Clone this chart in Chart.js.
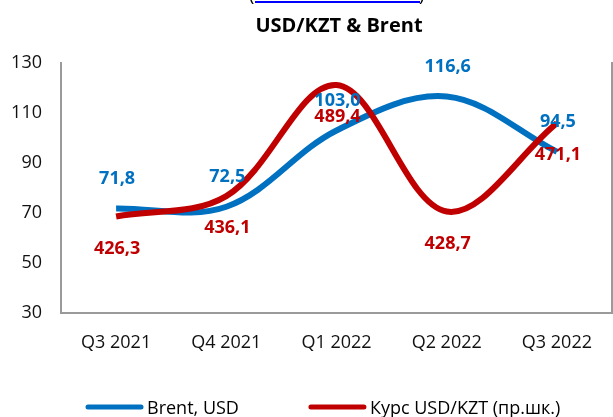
<!DOCTYPE html>
<html>
<head>
<meta charset="utf-8">
<script src="https://cdn.jsdelivr.net/npm/chart.js@4.4.1/dist/chart.umd.min.js"></script>
<style>
    html, body { margin: 0; padding: 0; background: #fff; }
    #wrap { position: relative; width: 613px; height: 417px; }
</style>
</head>
<body>
<div id="wrap"><canvas id="chart" width="613" height="417"></canvas></div>
<script>
// Chart data
const quarters = ['Q3 2021', 'Q4 2021', 'Q1 2022', 'Q2 2022', 'Q3 2022'];
const brentUsd = [71.8, 72.5, 103.0, 116.6, 94.5];
const usdKzt = [426.3, 436.1, 489.4, 428.7, 471.1];
const leftTicks = [30, 50, 70, 90, 110, 130];

const chartTitle = 'USD/KZT & Brent';
const brentLabel = 'Brent, USD';
const kztLabel = 'Курс USD/KZT (пр.шк.)';

const BLUE = '#0070C0';
const RED = '#C00000';
const AXIS = '#9a9a9a';
const FONT = "'Open Sans', 'Liberation Sans', sans-serif";

// comma decimal, like the source
const fmt = v => v.toFixed(1).replace('.', ',');

// Title, cut-off source line, data labels and legend
const decorations = {
    id: 'decorations',
    afterDatasetsDraw(chart) {
        const ctx = chart.ctx;
        ctx.save();

        // clipped source link at the very top
        ctx.fillStyle = '#000';
        ctx.font = '18px ' + FONT;
        ctx.textBaseline = 'alphabetic';
        ctx.textAlign = 'left';
        ctx.fillText('(', 249, 1);
        ctx.fillText(')', 419, 1);
        ctx.strokeStyle = '#0000FF';
        ctx.lineWidth = 2;
        ctx.beginPath();
        ctx.moveTo(255, 2);
        ctx.lineTo(420, 2);
        ctx.stroke();

        // title
        ctx.font = 'bold 20px ' + FONT;
        ctx.textAlign = 'center';
        ctx.fillText(chartTitle, 339, 32);

        // data labels
        ctx.font = 'bold 18px ' + FONT;
        ctx.textBaseline = 'middle';
        chart.data.datasets.forEach((ds, i) => {
            const meta = chart.getDatasetMeta(i);
            const dy = ds.yAxisID === 'y1' ? 32 : -30;
            ctx.fillStyle = ds.borderColor;
            meta.data.forEach((pt, j) => {
                ctx.fillText(fmt(ds.data[j]), pt.x + 1, pt.y + dy);
            });
        });

        // legend
        ctx.font = '18px ' + FONT;
        ctx.textAlign = 'left';
        ctx.lineCap = 'round';
        let x = 88;
        const y = 407;
        chart.data.datasets.forEach(ds => {
            ctx.strokeStyle = ds.borderColor;
            ctx.lineWidth = 5;
            ctx.beginPath();
            ctx.moveTo(x, y);
            ctx.lineTo(x + 53, y);
            ctx.stroke();
            ctx.fillStyle = '#000';
            ctx.fillText(ds.label, x + 59, y + 2);
            x += 59 + ctx.measureText(ds.label).width + 72;
        });

        ctx.restore();
    }
};

new Chart(document.getElementById('chart'), {
    type: 'line',
    data: {
        labels: quarters,
        datasets: [
            {
                label: brentLabel,
                data: brentUsd,
                yAxisID: 'y',
                borderColor: BLUE,
                backgroundColor: BLUE,
                borderWidth: 6,
                tension: 0.35,
                pointRadius: 0,
                order: 1
            },
            {
                label: kztLabel,
                data: usdKzt,
                yAxisID: 'y1',
                borderColor: RED,
                backgroundColor: RED,
                borderWidth: 6,
                tension: 0.35,
                pointRadius: 0,
                order: 0
            }
        ]
    },
    options: {
        responsive: false,
        animation: false,
        layout: { padding: { top: 63, left: 0, right: 0, bottom: 0 } },
        plugins: {
            legend: { display: false },
            tooltip: { enabled: false },
            title: { display: false }
        },
        scales: {
            x: {
                offset: true,
                grid: { display: false, drawTicks: false },
                border: { color: AXIS, width: 2 },
                ticks: { color: '#111', padding: 19, font: { family: FONT, size: 18 } },
                afterFit(scale) { scale.height = 104; }
            },
            y: {
                position: 'left',
                min: leftTicks[0],
                max: leftTicks[leftTicks.length - 1],
                afterBuildTicks(scale) { scale.ticks = leftTicks.map(v => ({ value: v })); },
                grid: { display: false, drawTicks: false },
                border: { color: AXIS, width: 2 },
                ticks: { color: '#111', padding: 19, font: { family: FONT, size: 18 } },
                afterFit(scale) { scale.width = 61; }
            },
            y1: {
                position: 'right',
                min: 380,
                max: 500,
                grid: { display: false, drawTicks: false },
                border: { color: AXIS, width: 2 },
                ticks: { display: false },
                afterFit(scale) { scale.width = 1; }
            }
        }
    },
    plugins: [decorations]
});
</script>
</body>
</html>
